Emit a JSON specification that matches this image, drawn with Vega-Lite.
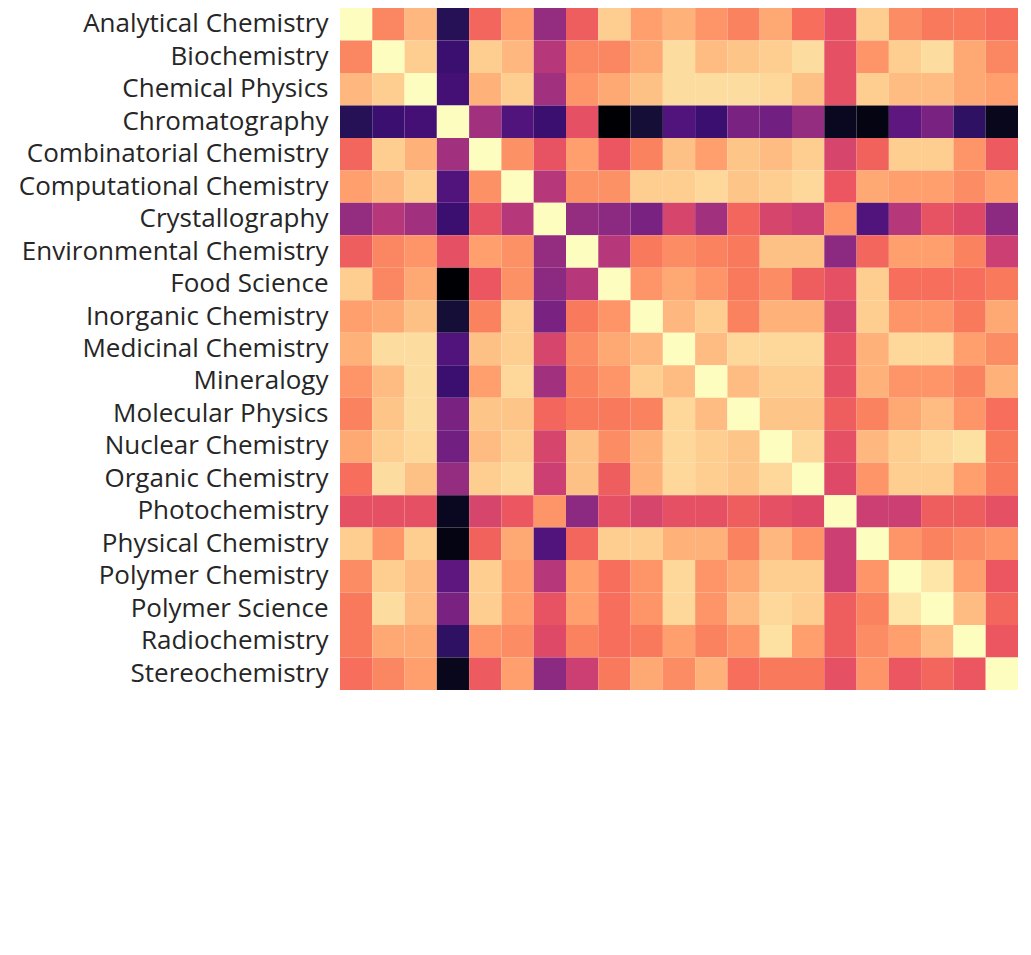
{
  "$schema": "https://vega.github.io/schema/vega-lite/v6.json",
  "autosize": {"type": "none"},
  "padding": {"left": 340, "top": 8, "right": 0, "bottom": 0},
  "width": 678,
  "height": 682,
  "config": {"view": {"stroke": null}, "font": "Open Sans"},
  "data": {"values": [
    {"r":"Analytical Chemistry","v":[1,0.75,0.85,0.15,0.68,0.8,0.42,0.66,0.9,0.8,0.84,0.78,0.74,0.82,0.7,0.62,0.9,0.76,0.72,0.72,0.7]},
    {"r":"Biochemistry","v":[0.75,1,0.9,0.2,0.9,0.85,0.5,0.75,0.75,0.82,0.93,0.86,0.88,0.9,0.93,0.62,0.78,0.9,0.93,0.82,0.75]},
    {"r":"Chemical Physics","v":[0.85,0.9,1,0.22,0.84,0.9,0.45,0.78,0.82,0.87,0.93,0.93,0.93,0.92,0.87,0.62,0.9,0.86,0.86,0.82,0.8]},
    {"r":"Chromatography","v":[0.15,0.2,0.22,1,0.45,0.25,0.2,0.62,0,0.1,0.25,0.2,0.35,0.33,0.42,0.06,0.03,0.28,0.35,0.17,0.05]},
    {"r":"Combinatorial Chemistry","v":[0.68,0.9,0.84,0.45,1,0.77,0.63,0.8,0.64,0.74,0.87,0.8,0.88,0.86,0.9,0.58,0.67,0.9,0.9,0.78,0.65]},
    {"r":"Computational Chemistry","v":[0.8,0.85,0.9,0.25,0.77,1,0.5,0.77,0.77,0.9,0.9,0.92,0.88,0.9,0.92,0.64,0.82,0.8,0.8,0.76,0.8]},
    {"r":"Crystallography","v":[0.42,0.5,0.45,0.2,0.63,0.5,1,0.42,0.4,0.35,0.58,0.45,0.68,0.58,0.55,0.78,0.25,0.5,0.63,0.6,0.4]},
    {"r":"Environmental Chemistry","v":[0.66,0.75,0.78,0.62,0.8,0.77,0.42,1,0.5,0.72,0.76,0.74,0.72,0.87,0.87,0.4,0.68,0.8,0.8,0.74,0.55]},
    {"r":"Food Science","v":[0.9,0.75,0.82,0,0.64,0.77,0.4,0.5,1,0.78,0.82,0.78,0.72,0.76,0.66,0.62,0.9,0.7,0.7,0.7,0.72]},
    {"r":"Inorganic Chemistry","v":[0.8,0.82,0.87,0.1,0.74,0.9,0.35,0.72,0.78,1,0.85,0.9,0.74,0.84,0.84,0.58,0.9,0.78,0.78,0.72,0.82]},
    {"r":"Medicinal Chemistry","v":[0.84,0.93,0.93,0.25,0.87,0.9,0.58,0.76,0.82,0.85,1,0.86,0.92,0.92,0.92,0.62,0.84,0.92,0.92,0.8,0.76]},
    {"r":"Mineralogy","v":[0.78,0.86,0.93,0.2,0.8,0.92,0.45,0.74,0.78,0.9,0.86,1,0.86,0.9,0.9,0.62,0.84,0.78,0.78,0.74,0.84]},
    {"r":"Molecular Physics","v":[0.74,0.88,0.93,0.35,0.88,0.88,0.68,0.72,0.72,0.74,0.92,0.86,1,0.88,0.88,0.66,0.74,0.82,0.86,0.78,0.7]},
    {"r":"Nuclear Chemistry","v":[0.82,0.9,0.92,0.33,0.86,0.9,0.58,0.87,0.76,0.84,0.92,0.9,0.88,1,0.92,0.62,0.85,0.9,0.92,0.94,0.72]},
    {"r":"Organic Chemistry","v":[0.7,0.93,0.87,0.42,0.9,0.92,0.55,0.87,0.66,0.84,0.92,0.9,0.88,0.92,1,0.6,0.78,0.9,0.9,0.8,0.72]},
    {"r":"Photochemistry","v":[0.62,0.62,0.62,0.06,0.58,0.64,0.78,0.4,0.62,0.58,0.62,0.62,0.66,0.62,0.6,1,0.55,0.55,0.66,0.66,0.62]},
    {"r":"Physical Chemistry","v":[0.9,0.78,0.9,0.03,0.67,0.82,0.25,0.68,0.9,0.9,0.84,0.84,0.74,0.85,0.78,0.55,1,0.78,0.74,0.76,0.78]},
    {"r":"Polymer Chemistry","v":[0.76,0.9,0.86,0.28,0.9,0.8,0.5,0.8,0.7,0.78,0.92,0.78,0.82,0.9,0.9,0.55,0.78,1,0.95,0.8,0.64]},
    {"r":"Polymer Science","v":[0.72,0.93,0.86,0.35,0.9,0.8,0.63,0.8,0.7,0.78,0.92,0.78,0.86,0.92,0.9,0.66,0.74,0.95,1,0.86,0.68]},
    {"r":"Radiochemistry","v":[0.72,0.82,0.82,0.17,0.78,0.76,0.6,0.74,0.7,0.72,0.8,0.74,0.78,0.94,0.8,0.66,0.76,0.8,0.86,1,0.64]},
    {"r":"Stereochemistry","v":[0.7,0.75,0.8,0.05,0.65,0.8,0.4,0.55,0.72,0.82,0.76,0.84,0.7,0.72,0.72,0.62,0.78,0.64,0.68,0.64,1]}
  ]},
  "transform": [
    {"flatten": ["v"]},
    {"window": [{"op": "row_number", "as": "ci"}], "groupby": ["r"]},
    {"lookup": "ci", "from": {"data": {"values": [
      {"ci":1,"c":"Analytical Chemistry"},{"ci":2,"c":"Biochemistry"},{"ci":3,"c":"Chemical Physics"},
      {"ci":4,"c":"Chromatography"},{"ci":5,"c":"Combinatorial Chemistry"},{"ci":6,"c":"Computational Chemistry"},
      {"ci":7,"c":"Crystallography"},{"ci":8,"c":"Environmental Chemistry"},{"ci":9,"c":"Food Science"},
      {"ci":10,"c":"Inorganic Chemistry"},{"ci":11,"c":"Medicinal Chemistry"},{"ci":12,"c":"Mineralogy"},
      {"ci":13,"c":"Molecular Physics"},{"ci":14,"c":"Nuclear Chemistry"},{"ci":15,"c":"Organic Chemistry"},
      {"ci":16,"c":"Photochemistry"},{"ci":17,"c":"Physical Chemistry"},{"ci":18,"c":"Polymer Chemistry"},
      {"ci":19,"c":"Polymer Science"},{"ci":20,"c":"Radiochemistry"},{"ci":21,"c":"Stereochemistry"}
    ]}, "key": "ci", "fields": ["c"]}}
  ],
  "mark": {"type": "rect"},
  "encoding": {
    "x": {"field": "c", "type": "nominal", "sort": {"field": "ci"}, "title": null,
      "scale": {"paddingInner": 0, "paddingOuter": 0},
      "axis": {"labelAngle": -45, "labelAlign": "right", "labelBaseline": "top", "labelFontSize": 26, "labelColor": "#262626", "domain": false, "ticks": false, "labelPadding": 6, "labelLimit": 0}},
    "y": {"field": "r", "type": "nominal", "sort": null, "title": null,
      "scale": {"paddingInner": 0, "paddingOuter": 0},
      "axis": {"labelFontSize": 26, "labelColor": "#262626", "domain": false, "ticks": false, "labelPadding": 12, "labelLimit": 0}},
    "color": {"field": "v", "type": "quantitative", "scale": {"scheme": "magma", "domain": [0, 1]}, "legend": null}
  }
}
